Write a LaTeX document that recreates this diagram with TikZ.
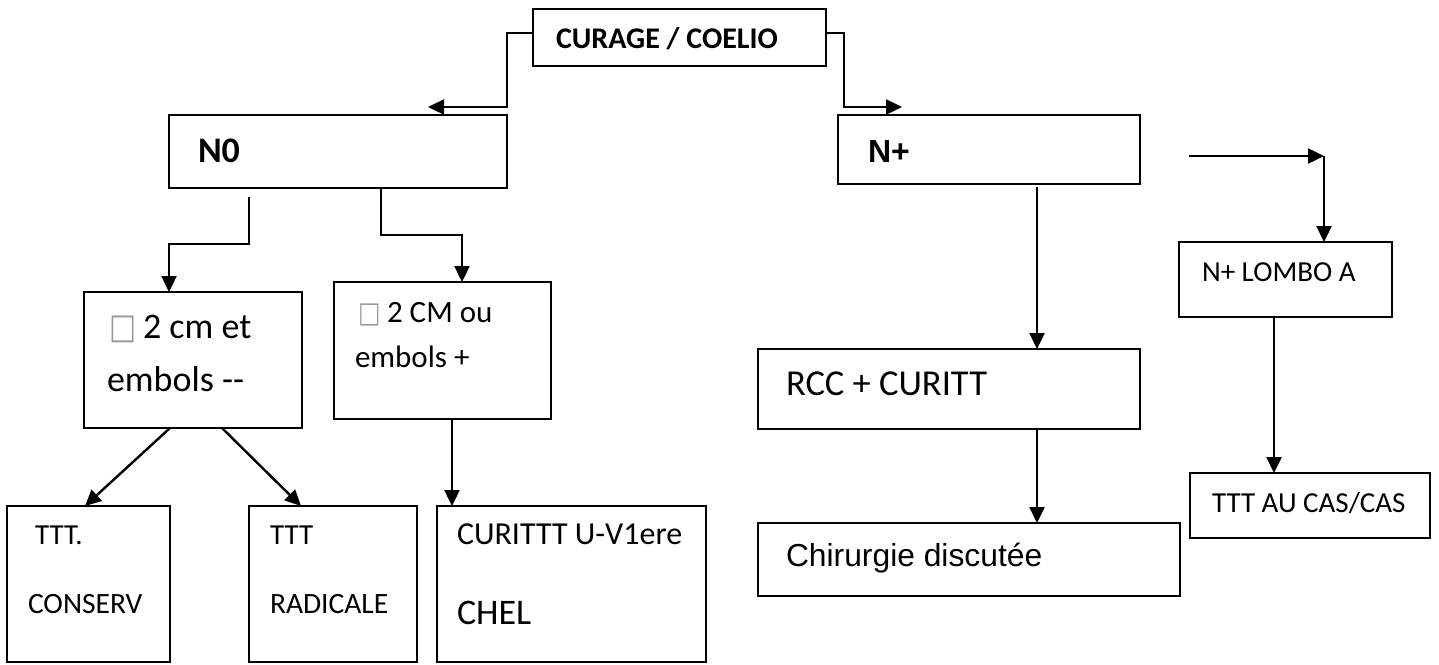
\documentclass[tikz,border=0pt]{standalone}
\usepackage{fontspec}
\setmainfont{Carlito}
\newfontfamily\arial{Liberation Sans}
\newfontfamily\dejavu{DejaVu Sans}
\usetikzlibrary{arrows.meta}
\tikzset{
  box/.style={draw=black, line width=1.8pt, rectangle, anchor=north west, inner sep=0pt, outer sep=0pt},
  conn/.style={draw=black, line width=2.4pt, -{Triangle[length=16pt,width=15pt]}},
  txt/.style={anchor=base west, inner sep=0pt, outer sep=0pt},
}
\newcommand{\fs}[1]{\fontsize{#1}{#1}\selectfont}
\newcommand{\nog}[1]{{\dejavu\color{gray!80}\fs{#1}\scalebox{0.82}[1]{□}}}
\begin{document}
\begin{tikzpicture}[x=1pt,y=-1pt]
\useasboundingbox (0,0) rectangle (1439,664);
% boxes
\node[box, minimum width=293pt, minimum height=57pt] (top) at (533,9) {};
\node[box, minimum width=338pt, minimum height=73pt] (n0) at (169,115) {};
\node[box, minimum width=302pt, minimum height=69pt] (np) at (838,115) {};
\node[box, minimum width=218pt, minimum height=136pt] (cma) at (84,292) {};
\node[box, minimum width=217pt, minimum height=137pt] (cmb) at (334,282) {};
\node[box, minimum width=163pt, minimum height=156pt] (cons) at (7,506) {};
\node[box, minimum width=168pt, minimum height=156pt] (rad) at (249,506) {};
\node[box, minimum width=269pt, minimum height=156pt] (cur) at (437,506) {};
\node[box, minimum width=382pt, minimum height=80pt] (rcc) at (758,349) {};
\node[box, minimum width=422pt, minimum height=73pt] (chir) at (758,523) {};
\node[box, minimum width=213pt, minimum height=75pt] (lombo) at (1179,242) {};
\node[box, minimum width=240pt, minimum height=65pt] (ttt) at (1190,473) {};
% texts
\node[txt] (t-top) at (556,48) {\fs{30}\bfseries CURAGE / COELIO};
\node[txt] (t-n0) at (198,162) {\fs{36}\bfseries N0};
\node[txt] (t-np) at (868,162) {\arial\fs{32}\bfseries N+};
\node[txt] (t-cma0) at (109,338) {\nog{35}};
\node[txt] (t-cma1) at (143,338) {\fs{36}2 cm et};
\node[txt] (t-cma2) at (107,391) {\fs{36}embols -{}-};
\node[txt] (t-cmb0) at (358,322) {\nog{29}};
\node[txt] (t-cmb1) at (387,322) {\fs{31}2 CM ou};
\node[txt] (t-cmb2) at (355,367) {\fs{31}embols +};
\node[txt] (t-cons1) at (35,544) {\fs{29}TTT.};
\node[txt] (t-cons2) at (28,613) {\fs{29.5}CONSERV};
\node[txt] (t-rad1) at (270,544) {\fs{29}TTT};
\node[txt] (t-rad2) at (270,613) {\fs{29.5}RADICALE};
\node[txt] (t-cur1) at (457,544) {\fs{32}CURITTT U-V1ere};
\node[txt] (t-cur2) at (457,624) {\fs{36}CHEL};
\node[txt] (t-rcc) at (786,395) {\fs{36.5}RCC + CURITT};
\node[txt] (t-chir) at (786,566) {\arial\fs{31.8}Chirurgie discutée};
\node[txt] (t-lombo) at (1202,281) {\fs{29}N+ LOMBO A};
\node[txt] (t-ttt) at (1212,512) {\fs{29}TTT AU CAS/CAS};
% free ends
\coordinate (a1) at (428,107);
\coordinate (a2) at (902,107);
\coordinate (s1) at (249,197);
\coordinate (s2) at (1189,156);
\coordinate (k2) at (1324,156);
% connectors
\draw[conn] ([yshift=4.5pt]top.west) -- (507,33) |- (a1);
\draw[conn] ([yshift=4.5pt]top.east) -- (844,33) |- (a2);
\draw[conn] (s1) -- (249,244) -| ([xshift=85pt]cma.north west);
\draw[conn] ([xshift=212pt]n0.south west) -- (381,235) -| ([xshift=128pt]cmb.north west);
\draw[conn] ([xshift=86pt]cma.south west) -- ([xshift=78pt]cons.north west);
\draw[conn] ([xshift=138pt]cma.south west) -- ([xshift=52pt]rad.north west);
\draw[conn] ([xshift=118pt]cmb.south west) -- ([xshift=15pt]cur.north west);
\draw[conn] ([xshift=199pt,yshift=-3pt]np.south west) -- ([xshift=279pt]rcc.north west);
\draw[conn] ([xshift=279pt]rcc.south west) -- ([xshift=279pt]chir.north west);
\draw[conn] (s2) -- (k2);
\draw[conn] (k2) -- ([xshift=145pt]lombo.north west);
\draw[conn] ([xshift=95pt]lombo.south west) -- ([xshift=84pt]ttt.north west);
\end{tikzpicture}
\end{document}
